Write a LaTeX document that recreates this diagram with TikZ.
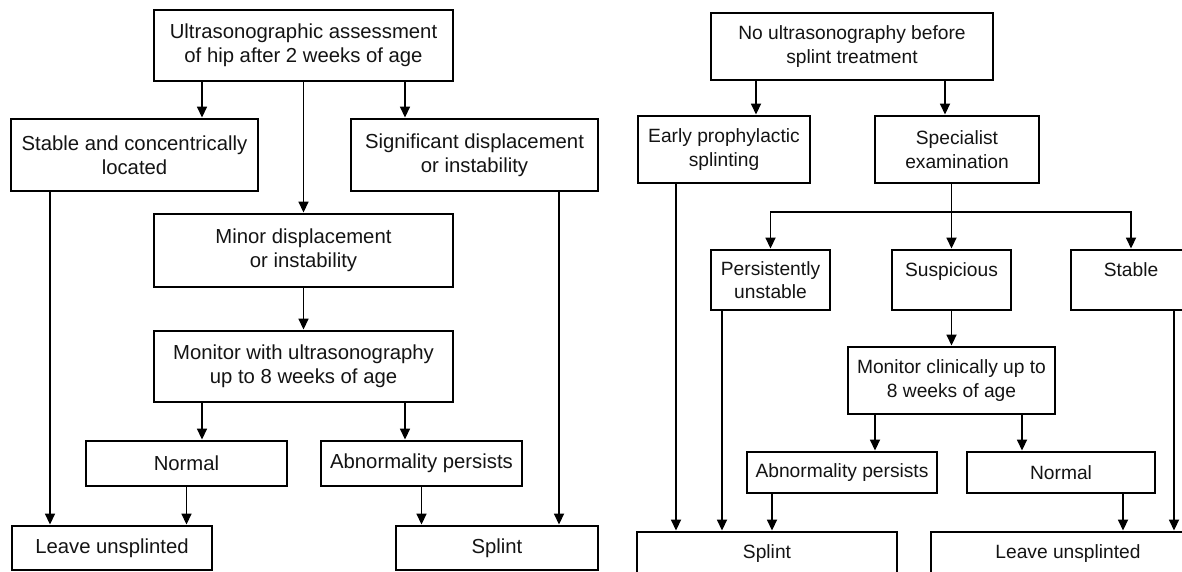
\documentclass[tikz,border=0pt]{standalone}
\usepackage{fontspec}
\setmainfont{Liberation Sans}
\usetikzlibrary{arrows.meta}
\begin{document}
\begin{tikzpicture}[x=1pt,y=-1pt,
  box/.style={draw=black, line width=2.9pt, inner sep=0pt, align=center,
    text=black!92, font=\fontsize{20.3}{24}\selectfont},
  rbox/.style={box, font=\fontsize{19.2}{23.5}\selectfont},
  sz/.style 2 args={minimum width=#1pt, minimum height=#2pt},
  conn/.style={line width=1.7pt, draw=black},
  arr/.style={conn, -{Triangle[length=11pt,width=10pt]}}]
\useasboundingbox (0,0) rectangle (1182,572);
\fill[white] (0,0) rectangle (1182,572);
\clip (0,0) rectangle (1182,572);

% ---------- left chart ----------
\node[box, sz={299}{71}] (L1) at (303.5,45.5) {Ultrasonographic assessment\\of hip after 2 weeks of age};
\node[box, sz={247}{72}] (L2) at (134.5,155) {Stable and concentrically\\located};
\node[box, sz={247}{72}] (L3) at (474.5,155) {Significant displacement\\or instability};
\node[box, sz={299}{73}] (L4) at (303.5,250.5) {Minor displacement\\or instability};
\node[box, sz={299}{71}] (L5) at (303.5,366.5) {Monitor with ultrasonography\\up to 8 weeks of age};
\node[box, sz={201}{45}] (L6) at (186.5,463.5) {Normal};
\node[box, sz={201}{45}] (L7) at (421.5,463.5) {Abnormality persists};
\node[box, sz={200}{44}] (L8) at (112,548) {Leave unsplinted};
\node[box, sz={202}{44}] (L9) at (497,548) {Splint};

\coordinate (xa) at (202,0);
\coordinate (xb) at (405,0);
\coordinate (xc) at (50,0);
\coordinate (xd) at (559,0);

\draw[arr] (L1.south -| xa) -- (L2.north -| xa);
\draw[arr] (L1.south -| xb) -- (L3.north -| xb);
\draw[arr] (L1.south) -- (L4.north);
\draw[arr] (L4.south) -- (L5.north);
\draw[arr] (L5.south -| xa) -- (L6.north -| xa);
\draw[arr] (L5.south -| xb) -- (L7.north -| xb);
\draw[arr] (L6.south) -- (L8.north -| L6.south);
\draw[arr] (L2.south -| xc) -- (L8.north -| xc);
\draw[arr] (L7.south) -- (L9.north -| L7.south);
\draw[arr] (L3.south -| xd) -- (L9.north -| xd);

% ---------- right chart ----------
\node[rbox, sz={282}{67}] (R1) at (852,46.5) {No ultrasonography before\\splint treatment};
\node[rbox, sz={172}{67}] (R2) at (724,149.5) {Early prophylactic\\splinting};
\node[rbox, sz={164}{67}] (R3) at (957,149.5) {Specialist\\examination};
\node[rbox, sz={119}{60}] (R4) at (770.5,280) {Persistently\\unstable};
\node[rbox, sz={119}{60}] (R5) at (951.5,280) {Suspicious\\[-10pt]\strut};
\node[rbox, sz={120}{60}] (R6) at (1131,280) {Stable\\[-10pt]\strut};
\node[rbox, sz={207}{67}] (R7) at (951.5,380.5) {Monitor clinically up to\\8 weeks of age};
\node[rbox, sz={190}{41}] (R8) at (842,472.5) {Abnormality persists};
\node[rbox, sz={188}{41}] (R9) at (1061,472.5) {Normal};
\node[rbox, sz={260}{44}] (R10) at (767,554) {Splint};
\node[rbox, sz={274}{44}] (R11) at (1068,554) {Leave unsplinted};

\coordinate (ya) at (756,0);
\coordinate (yb) at (945,0);
\coordinate (br) at (951.5,212);
\coordinate (yc) at (875,0);
\coordinate (yd) at (1022,0);
\coordinate (ye) at (676,0);
\coordinate (yf) at (722,0);
\coordinate (yg) at (772,0);
\coordinate (yh) at (1123,0);
\coordinate (yi) at (1174,0);

\draw[arr] (R1.south -| ya) -- (R2.north -| ya);
\draw[arr] (R1.south -| yb) -- (R3.north -| yb);
\draw[conn] (R3.south -| br) -- (br);
\draw[arr] (br) -| (R4.north);
\draw[arr] (br) -- (R5.north);
\draw[arr] (br) -| (R6.north);
\draw[arr] (R5.south) -- (R7.north);
\draw[arr] (R7.south -| yc) -- (R8.north -| yc);
\draw[arr] (R7.south -| yd) -- (R9.north -| yd);
\draw[arr] (R2.south -| ye) -- (R10.north -| ye);
\draw[arr] (R4.south -| yf) -- (R10.north -| yf);
\draw[arr] (R8.south -| yg) -- (R10.north -| yg);
\draw[arr] (R9.south -| yh) -- (R11.north -| yh);
\draw[arr] (R6.south -| yi) -- (R11.north -| yi);
\end{tikzpicture}
\end{document}
